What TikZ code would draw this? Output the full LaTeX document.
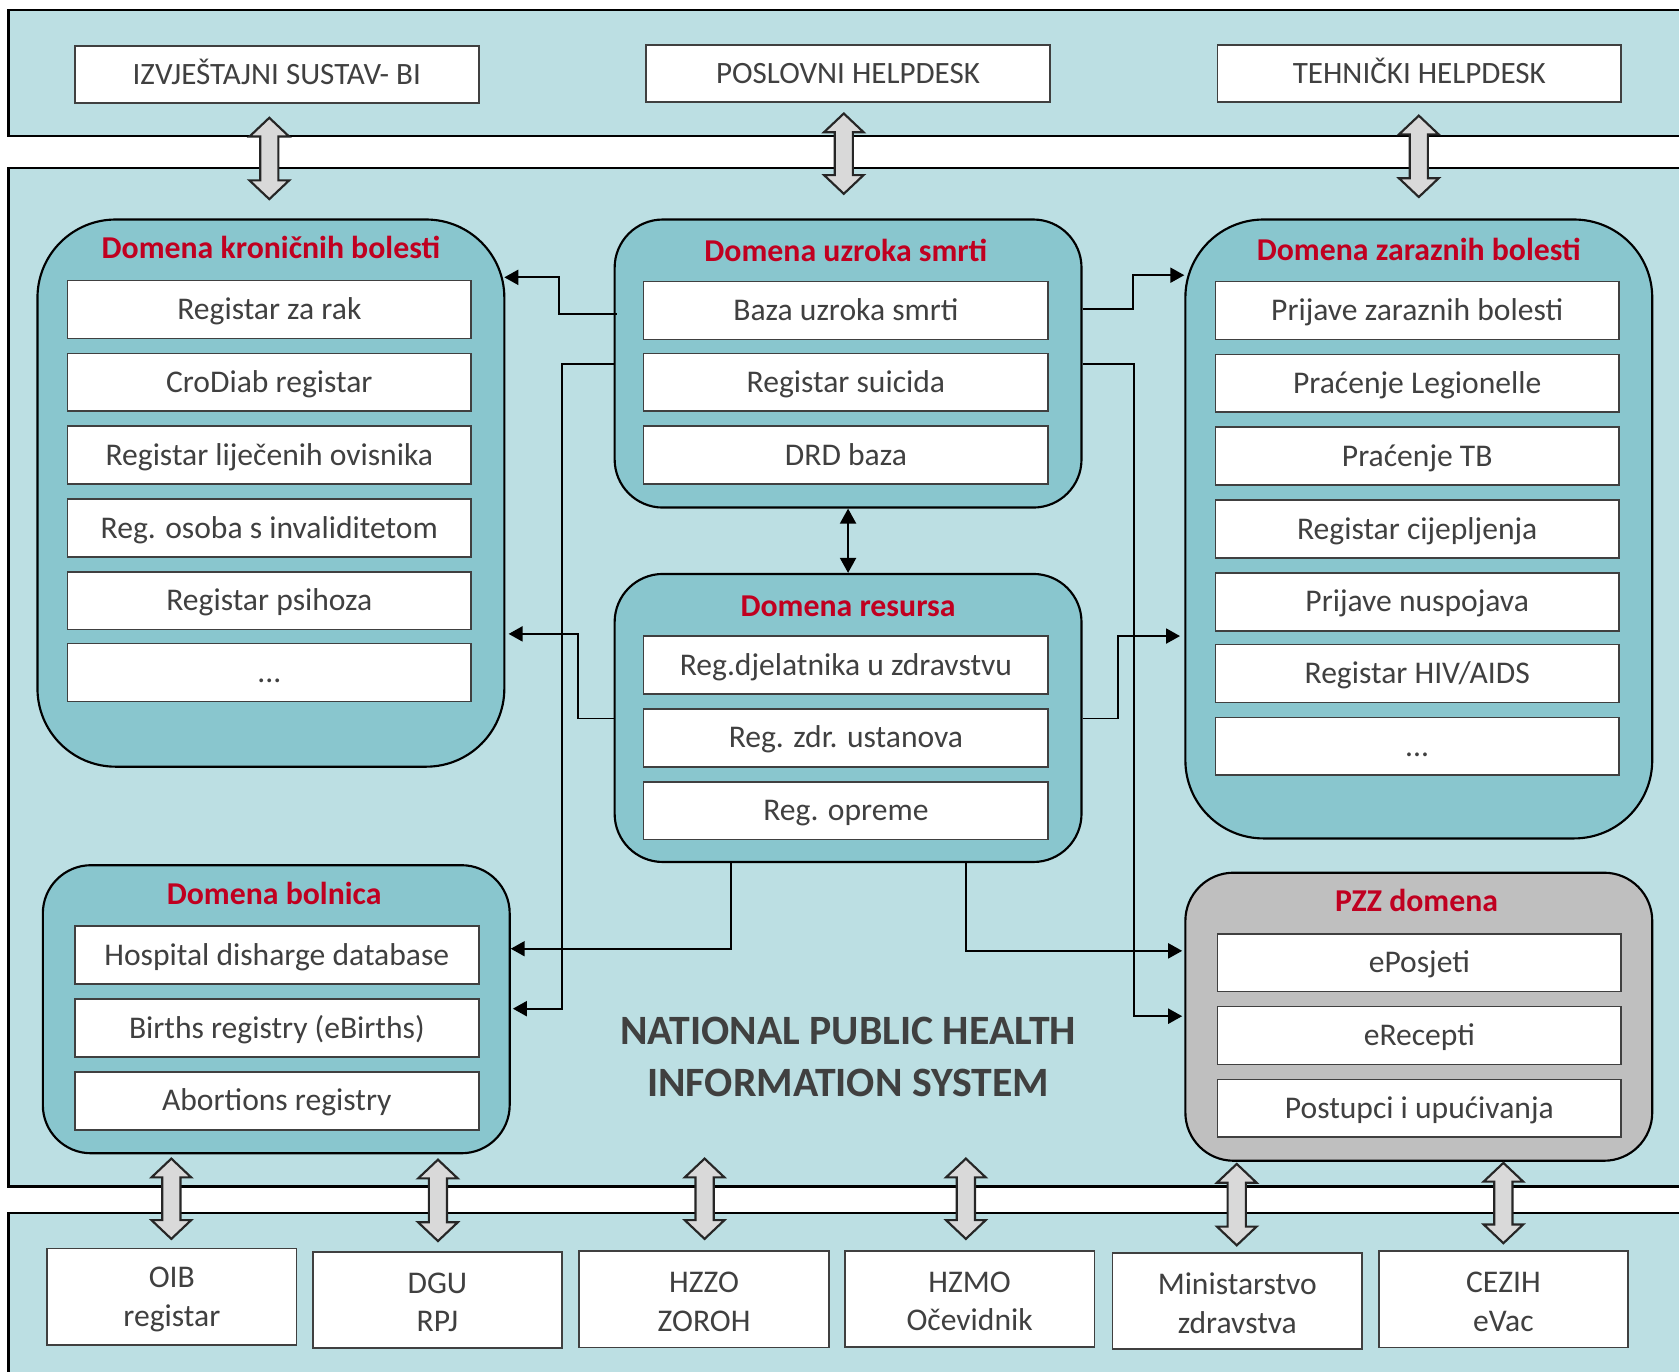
\documentclass[tikz,border=0pt]{standalone}
\usepackage{fontspec}
\setmainfont{Carlito}
\usetikzlibrary{arrows.meta,calc}
\definecolor{panelfill}{HTML}{BCDFE3}
\definecolor{domfill}{HTML}{89C6CE}
\definecolor{pzzfill}{HTML}{BFBFBF}
\definecolor{titlered}{HTML}{C00020}
\definecolor{txtgray}{HTML}{404040}
\definecolor{arrfill}{HTML}{D9D9D9}
\newcommand\BigArr[3]{%
  \draw[bigarrow] (#1,#2) -- (#1+18.5,#2+17.5) -- (#1+8.5,#2+17.5) -- (#1+8.5,#3-17.5) -- (#1+18.5,#3-17.5) -- (#1,#3) -- (#1-18.5,#3-17.5) -- (#1-8.5,#3-17.5) -- (#1-8.5,#2+17.5) -- (#1-18.5,#2+17.5) -- cycle;}
\newcommand\topstrut{\rule{0pt}{24pt}}
\begin{document}
\begin{tikzpicture}[x=1pt,y=-1pt,
  panel/.style={draw=black, line width=2pt, fill=panelfill},
  dombox/.style={draw=black, line width=2pt, fill=domfill, rounded corners=45pt, minimum width=436pt, minimum height=269pt, inner sep=0pt},
  bigdom/.style={dombox, rounded corners=73pt},
  dtitle/.style={inner sep=0pt, text=titlered, text height=22pt, text depth=3pt, font=\bfseries\fontsize{29.7}{36}\selectfont},
  ibox/.style={draw=txtgray, line width=1.6pt, fill=white, minimum width=377pt, minimum height=54pt, inner sep=0pt, text height=22pt, text depth=3pt, text=txtgray, font=\fontsize{29.5}{36}\selectfont},
  topbox/.style={ibox, minimum height=53pt, font=\fontsize{29}{36}\selectfont},
  botbox/.style={draw=txtgray, line width=1.6pt, fill=white, minimum width=233pt, minimum height=90pt, inner sep=0pt, align=center, text=txtgray, font=\fontsize{29.5}{36}\selectfont},
  conn/.style={draw=black, line width=1.8pt},
  tip/.style={-{Triangle[length=13pt,width=14pt]}},
  bigarrow/.style={draw=black!85, line width=2pt, fill=arrfill, line join=miter}
]
\useasboundingbox (0,0) rectangle (1568,1281);
\fill[white] (0,0) rectangle (1568,1281);
\clip (0,0) rectangle (1568,1281);

% panels
\draw[panel] (8,9) rectangle (1620,127);
\draw[panel] (8,157) rectangle (1620,1108);
\draw[panel] (8,1133) rectangle (1620,1330);

% top boxes
\node[topbox] (izv) at (258.5,69.5) {IZVJEŠTAJNI SUSTAV- BI};
\node[topbox] (posl) at (792,68.5) {POSLOVNI HELPDESK};
\node[topbox] (teh) at (1325.5,68.5) {TEHNIČKI HELPDESK};

% domain: kronicne
\node[bigdom, minimum height=511pt] (kron) at (253,460.5) {};
\node[dtitle] (kront) at (253,232) {Domena kroničnih bolesti};
\node[ibox] (k1) at (251.5,289) {Registar za rak};
\node[ibox] (k2) at (251.5,357) {CroDiab registar};
\node[ibox] (k3) at (251.5,425) {Registar liječenih ovisnika};
\node[ibox] (k4) at (251.5,493) {Reg. osoba s invaliditetom};
\node[ibox] (k5) at (251.5,561) {Registar psihoza};
\node[ibox] (k6) at (251.5,628) {...};

% domain: uzroka smrti
\node[dombox] (uz) at (792,339.5) {};
\node[dtitle] (uzt) at (790,235) {Domena uzroka smrti};
\node[ibox, minimum width=378pt] (u1) at (790,290) {Baza uzroka smrti};
\node[ibox, minimum width=378pt] (u2) at (790,357) {Registar suicida};
\node[ibox, minimum width=378pt] (u3) at (790,425) {DRD baza};

% domain: resursa
\node[dombox] (res) at (792,670.5) {};
\node[dtitle] (rest) at (792,566) {Domena resursa};
\node[ibox, minimum width=378pt] (r1) at (790,621) {Reg.djelatnika u zdravstvu};
\node[ibox, minimum width=378pt] (r2) at (790,689) {Reg. zdr. ustanova};
\node[ibox, minimum width=378pt] (r3) at (790,757) {Reg. opreme};

% domain: zarazne
\node[bigdom, minimum height=578pt] (zar) at (1325,494) {};
\node[dtitle] (zart) at (1325,234) {Domena zaraznih bolesti};
\node[ibox] (z1) at (1323.5,290) {Prijave zaraznih bolesti};
\node[ibox] (z2) at (1323.5,358) {Praćenje Legionelle};
\node[ibox] (z3) at (1323.5,426) {Praćenje TB};
\node[ibox] (z4) at (1323.5,494) {Registar cijepljenja};
\node[ibox] (z5) at (1323.5,562) {Prijave nuspojava};
\node[ibox] (z6) at (1323.5,629) {Registar HIV/AIDS};
\node[ibox] (z7) at (1323.5,697) {...};

% domain: bolnica
\node[dombox] (bol) at (258,942.5) {};
\node[dtitle] (bolt) at (256,835) {Domena bolnica};
\node[ibox] (b1) at (258.5,892) {Hospital disharge database};
\node[ibox] (b2) at (258.5,960) {Births registry (eBirths)};
\node[ibox] (b3) at (258.5,1028) {Abortions registry};

% domain: PZZ
\node[dombox, fill=pzzfill] (pzz) at (1325,949.5) {};
\node[dtitle] (pzzt) at (1323,842) {PZZ domena};
\node[ibox] (p1) at (1325.5,899) {ePosjeti};
\node[ibox] (p2) at (1325.5,967) {eRecepti};
\node[ibox] (p3) at (1325.5,1035) {Postupci i upućivanja};

% centre title
\node[font=\bfseries\fontsize{39}{49}\selectfont, text=txtgray, align=center, inner sep=0pt] (nat) at (792,987) {NATIONAL PUBLIC HEALTH\\INFORMATION SYSTEM};

% bottom boxes
\node[botbox] (oib) at (160.5,1211) {\topstrut OIB\\registar};
\node[botbox] (dgu) at (408.5,1214) {\topstrut DGU\\RPJ};
\node[botbox] (hzzo) at (657.5,1213.5) {\topstrut HZZO\\ZOROH};
\node[botbox] (hzmo) at (905.5,1213) {\topstrut HZMO\\Očevidnik};
\node[botbox] (min) at (1155.5,1215) {\topstrut Ministarstvo\\zdravstva};
\node[botbox] (cez) at (1404,1213.5) {\topstrut CEZIH\\eVac};

% helper coordinates for connector levels
\coordinate (y259) at (0,259);
\coordinate (y293) at (0,293);
\coordinate (y289) at (0,289);
\coordinate (y257) at (0,257);
\coordinate (y340) at (0,340);
\coordinate (y942) at (0,942);
\coordinate (y949) at (0,949);
\coordinate (y671) at (0,671);
\coordinate (y592) at (0,592);
\coordinate (y594) at (0,594);
\coordinate (y886) at (0,886);
\coordinate (y888) at (0,888);
\coordinate (x522) at (522,0);
\coordinate (x525) at (525,0);
\coordinate (x1058) at (1058,0);
\coordinate (x1059) at (1059,0);
\coordinate (x540) at (540,0);
\coordinate (x1044) at (1044,0);
\coordinate (x683) at (683,0);
\coordinate (x902) at (902,0);

% connectors
\draw[conn,tip] ([xshift=3pt]uz.west |- y293) -- (x522 |- y293) -- (x522 |- y259) -- ([xshift=-1pt]kron.east |- y259);
\draw[conn,tip] (uz.west |- y340) -- (x525 |- y340) -- (x525 |- y942) -- ([xshift=2pt]bol.east |- y942);
\draw[conn,tip] (uz.east |- y289) -- (x1058 |- y289) -- (x1058 |- y257) -- (zar.west |- y257);
\draw[conn,tip] (uz.east |- y340) -- (x1059 |- y340) -- (x1059 |- y949) -- ([xshift=-2pt]pzz.west |- y949);
\draw[conn,{Triangle[length=14pt,width=15pt]}-{Triangle[length=14pt,width=15pt]}] (uz.south) -- (res.north);
\draw[conn,tip] (res.west |- y671) -- (x540 |- y671) -- (x540 |- y592) -- ([xshift=3pt]kron.east |- y592);
\draw[conn,tip] (res.east |- y671) -- (x1044 |- y671) -- (x1044 |- y594) -- ([xshift=-4pt]zar.west |- y594);
\draw[conn,tip] (x683 |- res.south) -- (x683 |- y886) -- (bol.east |- y886);
\draw[conn,tip] (x902 |- res.south) -- (x902 |- y888) -- ([xshift=-2pt]pzz.west |- y888);

% big double arrows
\BigArr{251.5}{110}{186}
\BigArr{788}{106}{181}
\BigArr{1325}{108}{184}
\BigArr{160}{1082}{1157}
\BigArr{409}{1083}{1159}
\BigArr{658}{1082}{1157}
\BigArr{902}{1082}{1157}
\BigArr{1155}{1087}{1163}
\BigArr{1404}{1086}{1161}
\end{tikzpicture}
\end{document}
